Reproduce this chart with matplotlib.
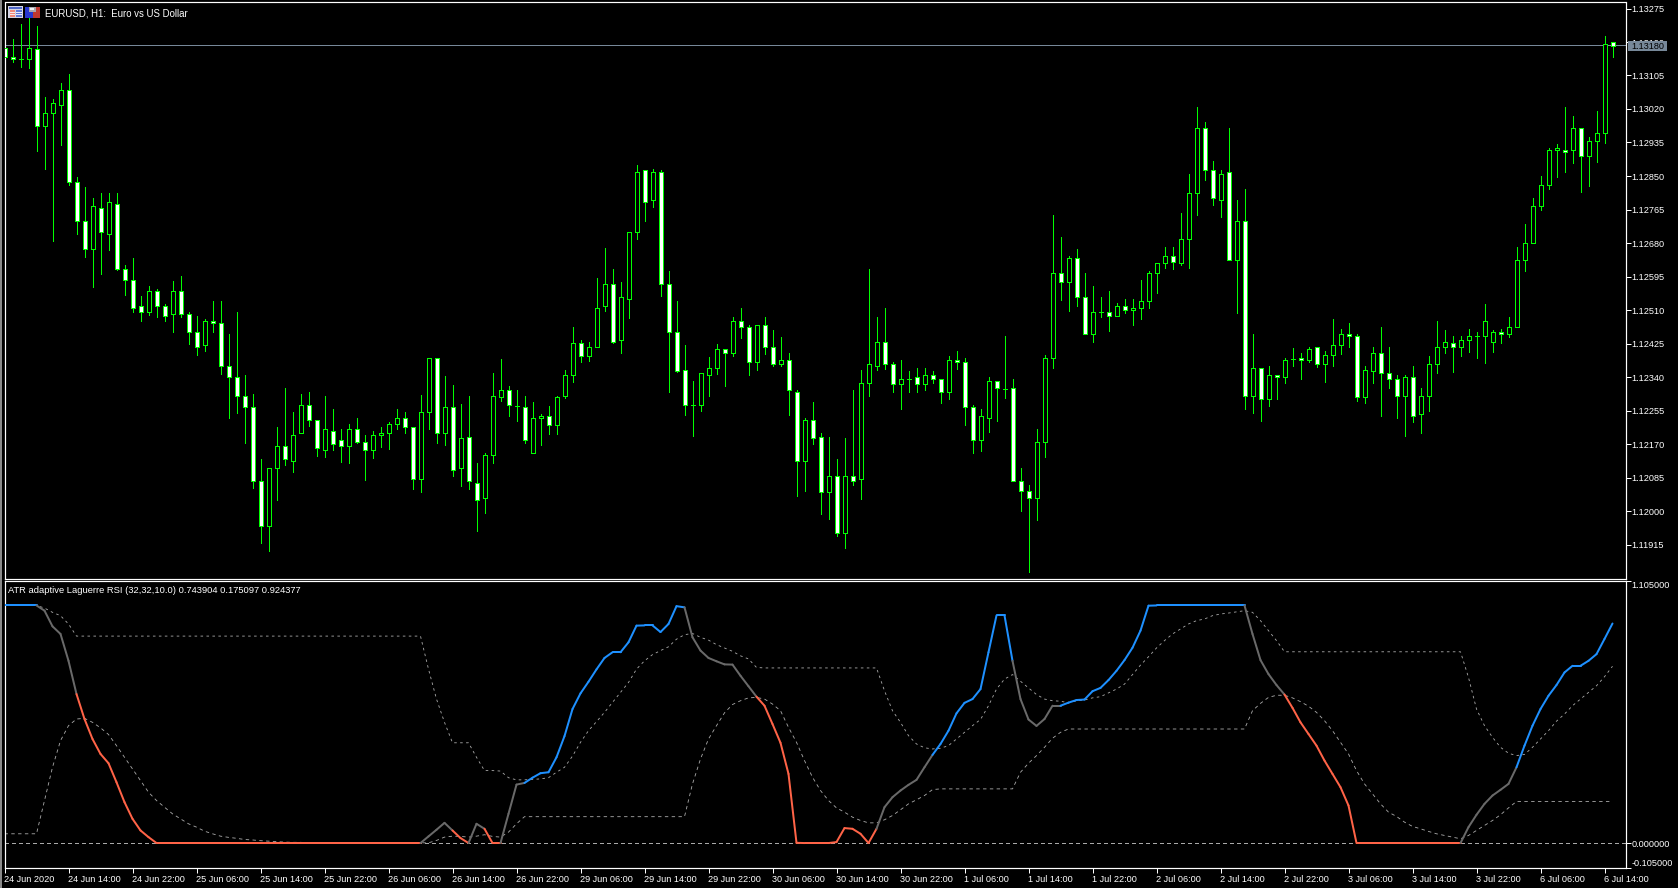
"""EURUSD H1 candles with an ATR adaptive Laguerre RSI pane, MT5 style."""

import matplotlib

matplotlib.use("Agg")
import matplotlib.pyplot as plt
import numpy as np
from matplotlib.patches import Rectangle

W, H = 1678, 888

# candle values, in points above 1.10000
OPEN_PTS = [
    3176, 3153, 3147, 3147, 3173, 2978, 3011, 3031, 3067, 2834,
    2735, 2666, 2768, 2704, 2780, 2613, 2585, 2521, 2504, 2559,
    2521, 2499, 2557, 2499, 2453, 2420, 2483, 2478, 2369, 2341,
    2293, 2263, 2077, 1963, 2110, 2166, 2128, 2197, 2270, 2232,
    2156, 2204, 2179, 2164, 2209, 2176, 2156, 2192, 2199, 2222,
    2237, 2212, 2080, 2250, 2389, 2199, 2265, 2108, 2189, 2070,
    2034, 2141, 2290, 2308, 2267, 2263, 2146, 2237, 2242, 2217,
    2293, 2344, 2425, 2394, 2415, 2521, 2577, 2433, 2539, 2707,
    2864, 2788, 2859, 2577, 2455, 2359, 2270, 2270, 2346, 2362,
    2412, 2402, 2483, 2466, 2379, 2471, 2417, 2374, 2384, 2303,
    2128, 2230, 2189, 2047, 2090, 1943, 2090, 2080, 2326, 2369,
    2430, 2374, 2321, 2334, 2339, 2321, 2346, 2336, 2303, 2384,
    2379, 2265, 2179, 2237, 2329, 2310, 2311, 2075, 2050, 2034,
    2174, 2387, 2605, 2582, 2641, 2542, 2450, 2506, 2506, 2496,
    2519, 2509, 2514, 2532, 2603, 2628, 2648, 2630, 2689, 2806,
    2973, 2866, 2788, 2859, 2636, 2735, 2292, 2362, 2283, 2344,
    2339, 2386, 2389, 2384, 2415, 2372, 2397, 2422, 2450, 2445,
    2288, 2356, 2400, 2349, 2336, 2291, 2339, 2245, 2293, 2374,
    2415, 2426, 2415, 2433, 2443, 2445, 2430, 2455, 2450, 2466,
    2638, 2681, 2773, 2826, 2915, 2917, 2915, 2971, 2902, 2938,
    2958, 3191,
]
HIGH_PTS = [
    3194, 3197, 3235, 3250, 3230, 3050, 3045, 3085, 3110, 2847,
    2821, 2793, 2808, 2806, 2806, 2625, 2641, 2545, 2570, 2564,
    2525, 2583, 2596, 2504, 2496, 2486, 2532, 2532, 2450, 2506,
    2344, 2298, 2131, 2110, 2214, 2313, 2250, 2298, 2301, 2232,
    2291, 2260, 2207, 2220, 2235, 2194, 2204, 2214, 2227, 2260,
    2250, 2214, 2294, 2389, 2389, 2342, 2319, 2271, 2291, 2123,
    2148, 2350, 2385, 2317, 2306, 2291, 2276, 2247, 2266, 2293,
    2359, 2466, 2435, 2428, 2592, 2667, 2613, 2582, 2707, 2877,
    2866, 2869, 2866, 2608, 2532, 2420, 2331, 2351, 2392, 2423,
    2412, 2491, 2514, 2471, 2473, 2493, 2460, 2441, 2402, 2308,
    2237, 2276, 2197, 2189, 2133, 2184, 2308, 2359, 2615, 2493,
    2516, 2379, 2384, 2354, 2364, 2362, 2354, 2336, 2394, 2405,
    2387, 2270, 2260, 2341, 2331, 2445, 2336, 2110, 2067, 2209,
    2397, 2750, 2696, 2646, 2666, 2603, 2570, 2542, 2559, 2529,
    2539, 2539, 2585, 2610, 2628, 2669, 2669, 2755, 2856, 3024,
    2986, 2889, 2864, 2973, 2788, 2816, 2450, 2364, 2369, 2346,
    2389, 2413, 2402, 2417, 2415, 2407, 2488, 2463, 2476, 2448,
    2367, 2417, 2466, 2417, 2344, 2344, 2369, 2311, 2394, 2481,
    2460, 2445, 2445, 2463, 2455, 2524, 2460, 2463, 2493, 2669,
    2728, 2793, 2851, 2922, 2932, 3024, 3001, 2973, 2948, 3016,
    3204, 3191,
]
LOW_PTS = [
    3144, 3140, 3127, 3124, 2914, 2868, 2685, 2929, 2826, 2704,
    2645, 2569, 2602, 2662, 2612, 2548, 2505, 2482, 2498, 2492,
    2482, 2454, 2492, 2424, 2396, 2406, 2454, 2348, 2236, 2249,
    2173, 2059, 1919, 1899, 2028, 2117, 2099, 2197, 2216, 2140,
    2137, 2156, 2125, 2122, 2173, 2079, 2135, 2163, 2158, 2208,
    2198, 2056, 2048, 2208, 2172, 2167, 2089, 2064, 2056, 1950,
    1995, 2122, 2279, 2241, 2228, 2172, 2146, 2167, 2195, 2195,
    2286, 2328, 2378, 2380, 2415, 2507, 2425, 2400, 2490, 2690,
    2736, 2772, 2546, 2302, 2352, 2243, 2190, 2253, 2291, 2348,
    2317, 2393, 2438, 2344, 2357, 2398, 2367, 2367, 2243, 2038,
    2050, 2169, 1992, 1979, 1937, 1906, 2066, 2031, 2292, 2357,
    2361, 2301, 2259, 2302, 2302, 2307, 2325, 2274, 2284, 2361,
    2218, 2147, 2152, 2201, 2229, 2287, 2075, 2000, 1845, 1977,
    2137, 2362, 2535, 2508, 2520, 2450, 2429, 2492, 2457, 2496,
    2503, 2471, 2487, 2515, 2553, 2616, 2614, 2624, 2617, 2751,
    2840, 2777, 2745, 2636, 2502, 2258, 2249, 2229, 2267, 2284,
    2325, 2368, 2335, 2378, 2366, 2328, 2368, 2399, 2416, 2279,
    2274, 2325, 2241, 2312, 2236, 2190, 2226, 2198, 2254, 2350,
    2401, 2353, 2394, 2404, 2389, 2376, 2404, 2426, 2442, 2466,
    2609, 2681, 2764, 2817, 2848, 2860, 2883, 2810, 2825, 2886,
    2934, 3151,
]
CLOSE_PTS = [
    3152, 3146, 3147, 3176, 2978, 3011, 3034, 3069, 2834, 2735,
    2666, 2775, 2707, 2783, 2615, 2585, 2516, 2504, 2559, 2521,
    2496, 2557, 2499, 2453, 2417, 2483, 2476, 2369, 2339, 2293,
    2265, 2077, 1961, 2110, 2166, 2131, 2194, 2270, 2230, 2159,
    2209, 2169, 2164, 2209, 2176, 2156, 2194, 2199, 2222, 2235,
    2212, 2080, 2250, 2389, 2197, 2265, 2103, 2184, 2075, 2029,
    2143, 2293, 2308, 2268, 2267, 2179, 2237, 2242, 2217, 2288,
    2346, 2425, 2394, 2415, 2516, 2577, 2430, 2542, 2707, 2861,
    2783, 2859, 2577, 2455, 2356, 2270, 2270, 2349, 2362, 2410,
    2402, 2483, 2468, 2379, 2471, 2417, 2374, 2384, 2308, 2128,
    2230, 2184, 2047, 2090, 1943, 2090, 2077, 2326, 2374, 2428,
    2374, 2323, 2336, 2334, 2321, 2346, 2334, 2303, 2384, 2379,
    2263, 2179, 2240, 2331, 2313, 2310, 2075, 2050, 2034, 2176,
    2389, 2605, 2582, 2641, 2542, 2450, 2506, 2506, 2496, 2519,
    2509, 2514, 2532, 2603, 2628, 2648, 2633, 2689, 2806, 2973,
    2866, 2793, 2856, 2636, 2737, 2291, 2362, 2283, 2344, 2339,
    2384, 2386, 2384, 2412, 2372, 2397, 2422, 2450, 2445, 2288,
    2359, 2400, 2349, 2334, 2291, 2339, 2242, 2293, 2374, 2415,
    2430, 2415, 2433, 2443, 2443, 2481, 2455, 2448, 2466, 2638,
    2681, 2773, 2826, 2915, 2920, 2912, 2971, 2902, 2940, 2958,
    3186, 3181,
]

# indicator pane
rsi = (
    [1.0] * 5
    + [0.978, 0.912, 0.880, 0.767, 0.627, 0.522, 0.438, 0.375, 0.336, 0.256,
       0.172, 0.102, 0.053, 0.025]
    + [0.0] * 34
    + [0.028, 0.056, 0.085, 0.053, 0.021, 0.0, 0.081, 0.060, 0.0, 0.0,
       0.123, 0.246, 0.253, 0.275, 0.294, 0.298, 0.361, 0.450, 0.564, 0.630,
       0.679, 0.731, 0.779, 0.803, 0.803, 0.845, 0.915, 0.916, 0.916, 0.888,
       0.922, 0.997, 0.992, 0.866, 0.810, 0.779, 0.765, 0.752, 0.751, 0.704,
       0.660, 0.616, 0.578, 0.501, 0.422, 0.291, 0.001, 0.0, 0.0, 0.0,
       0.0, 0.004, 0.063, 0.060, 0.039, 0.0, 0.060, 0.151, 0.193, 0.221,
       0.245, 0.266, 0.319, 0.371, 0.417, 0.473, 0.546, 0.590, 0.606, 0.648,
       0.803, 0.958, 0.958, 0.767, 0.606, 0.520, 0.493, 0.522, 0.578, 0.578,
       0.591, 0.602, 0.604, 0.639, 0.653, 0.686, 0.725, 0.770, 0.822, 0.894,
       0.999]
    + [1.0] * 12
    + [0.880, 0.770, 0.711, 0.665, 0.625, 0.569, 0.508, 0.459, 0.410, 0.347,
       0.291, 0.235, 0.158, 0.0]
    + [0.0] * 13
    + [0.067, 0.119, 0.165, 0.200, 0.224, 0.249, 0.319, 0.410, 0.494, 0.564,
       0.620, 0.665, 0.718, 0.746, 0.746, 0.767, 0.795, 0.859, 0.924]
)
level_up = (
    [1.0] * 5
    + [0.989, 0.971, 0.957, 0.922]
    + [0.871] * 44
    + [0.732, 0.606, 0.508, 0.422, 0.422, 0.422, 0.361, 0.305, 0.305, 0.303,
       0.275, 0.266, 0.266, 0.268, 0.270, 0.275, 0.298, 0.319, 0.366, 0.424,
       0.473, 0.511, 0.550, 0.592, 0.634, 0.676, 0.732, 0.767, 0.793, 0.810,
       0.826, 0.858, 0.877, 0.882, 0.866, 0.854, 0.835, 0.821, 0.807, 0.788,
       0.775, 0.739]
    + [0.737] * 15
    + [0.641, 0.557, 0.508, 0.452, 0.417, 0.401, 0.396, 0.399, 0.410, 0.438,
       0.466, 0.494, 0.520, 0.578, 0.648, 0.690, 0.709, 0.681, 0.653, 0.625,
       0.606, 0.599, 0.597, 0.590, 0.599, 0.602, 0.611, 0.616, 0.632, 0.648,
       0.669, 0.709, 0.749, 0.784, 0.821, 0.852, 0.880, 0.901, 0.922, 0.936,
       0.943, 0.957, 0.964, 0.968, 0.973, 0.978, 0.971, 0.936, 0.894, 0.852]
    + [0.805] * 23
    + [0.697, 0.564, 0.494, 0.445, 0.403, 0.378, 0.368, 0.373, 0.403, 0.438,
       0.473, 0.513, 0.543, 0.578, 0.606, 0.634, 0.662, 0.700, 0.744]
)
level_down = (
    [0.039] * 5
    + [0.179, 0.319, 0.431, 0.494, 0.522, 0.525, 0.508, 0.485, 0.457, 0.410,
       0.361, 0.312, 0.263, 0.214, 0.179, 0.151, 0.123, 0.102, 0.081, 0.067,
       0.050, 0.039, 0.029, 0.024, 0.020, 0.015, 0.013, 0.010, 0.008, 0.006,
       0.004, 0.003, 0.003]
    + [0.001] * 16
    + [0.011, 0.025, 0.029, 0.028, 0.025, 0.029, 0.035, 0.028, 0.025, 0.046,
       0.081]
    + [0.111] * 21
    + [0.249, 0.354, 0.438, 0.494, 0.548, 0.583, 0.599, 0.611, 0.613, 0.606,
       0.585, 0.557, 0.487, 0.424, 0.347, 0.277, 0.221, 0.179, 0.148, 0.130,
       0.109, 0.095, 0.085, 0.085, 0.098, 0.116, 0.140, 0.165, 0.182, 0.200,
       0.225]
    + [0.228] * 10
    + [0.298, 0.336, 0.368, 0.403, 0.441, 0.466]
    + [0.480] * 23
    + [0.557, 0.588, 0.613, 0.622, 0.622, 0.611, 0.595, 0.576, 0.550, 0.515,
       0.473, 0.424, 0.375, 0.305, 0.249, 0.207, 0.165, 0.130, 0.112, 0.088,
       0.070, 0.060, 0.049, 0.039, 0.032, 0.025, 0.018, 0.032, 0.053, 0.074,
       0.095, 0.119, 0.148]
    + [0.175] * 13
)

date_labels = [
    "24 Jun 2020", "24 Jun 14:00", "24 Jun 22:00", "25 Jun 06:00", "25 Jun 14:00",
    "25 Jun 22:00", "26 Jun 06:00", "26 Jun 14:00", "26 Jun 22:00", "29 Jun 06:00",
    "29 Jun 14:00", "29 Jun 22:00", "30 Jun 06:00", "30 Jun 14:00", "30 Jun 22:00",
    "1 Jul 06:00", "1 Jul 14:00", "1 Jul 22:00", "2 Jul 06:00", "2 Jul 14:00",
    "2 Jul 22:00", "3 Jul 06:00", "3 Jul 14:00", "3 Jul 22:00", "6 Jul 06:00",
    "6 Jul 14:00",
]
price_ticks = [
    1.13275, 1.13190, 1.13105, 1.13020, 1.12935, 1.12850, 1.12765, 1.12680, 1.12595,
    1.12510, 1.12425, 1.12340, 1.12255, 1.12170, 1.12085, 1.12000, 1.11915,
]
rsi_ticks = [1.105, 0.0, -0.105]
bid_line = 1.13182

GREEN = "#00ff00"
BLUE = "#1e90ff"
GREY = "#696969"
TOMATO = "#ff6347"
LEVEL = "#a9a9a9"
SLATE = "#778899"
PX = 0.72  # one pixel in points at dpi 100

plt.rcParams["font.family"] = ["Liberation Sans", "DejaVu Sans"]
plt.rcParams["font.size"] = 6.6


def px_axes(fig, left, top, right, bottom):
    ax = fig.add_axes([left / W, 1 - bottom / H, (right - left) / W, (bottom - top) / H])
    ax.set_facecolor("black")
    for s in ax.spines.values():
        s.set_color("white")
        s.set_linewidth(PX * 1.2)
    ax.set_xlim((left - 4.5) / 8, (right - 4.5) / 8)
    return ax


def px_rect(fig, x0, y0, w0, h0, color, zorder=5):
    fig.add_artist(Rectangle((x0 / W, 1 - (y0 + h0) / H), w0 / W, h0 / H,
                             transform=fig.transFigure, fc=color, ec="none", zorder=zorder))


opens = 1.1 + np.array(OPEN_PTS) / 1e5
highs = 1.1 + np.array(HIGH_PTS) / 1e5
lows = 1.1 + np.array(LOW_PTS) / 1e5
closes = 1.1 + np.array(CLOSE_PTS) / 1e5
bars = np.arange(len(opens))

fig = plt.figure(figsize=(W / 100, H / 100), dpi=100, facecolor="black")

# price window
ax = px_axes(fig, 4.5, 2.5, 1625.5, 578.5)
per_px = 0.00085 / 33.5
ax.set_ylim(1.13275 - (578.5 - 8.5) * per_px, 1.13275 + (8.5 - 2.5) * per_px)
ax.axhline(bid_line, color=SLATE, lw=PX, antialiased=False, zorder=1)
ax.vlines(bars, lows, highs, color=GREEN, lw=PX, antialiased=False, zorder=2)
ax.bar(
    bars, closes - opens, bottom=opens, width=0.5,
    color=np.where(closes < opens, "white", "black"),
    edgecolor=GREEN, linewidth=PX, antialiased=False, zorder=3,
)
ax.set_xticks([])
ax.yaxis.tick_right()
ax.set_yticks(price_ticks, [f"{t:.5f}" for t in price_ticks])
ax.tick_params(axis="y", colors="white", length=3.8, width=PX, pad=0.6)
fig.text(45.3 / W, 1 - 14 / H, "EURUSD, H1:  Euro vs US Dollar", color="white", va="center", fontsize=6.9)

# bid tag over the tick labels
px_rect(fig, 1628, 40.7, 39, 10.3, SLATE, zorder=6)
fig.text(1647.5 / W, 1 - 46.5 / H, "1.13180", color="black", ha="center", va="center", zorder=7)

# window icons in the top left corner
icon_parts = [
    (8, 6, 15, 12.5, "#d4d4e4"), (9, 7, 13, 2, "#5068c8"),
    (9.5, 10, 5.5, 7, "#f08878"), (16, 10, 5.5, 7, "#6078d8"),
    (9.5, 12, 5.5, 1, "#f8e8e8"), (9.5, 14.5, 5.5, 1, "#f8e8e8"),
    (16, 12, 5.5, 1, "#e8e8f8"), (16, 14.5, 5.5, 1, "#e8e8f8"),
    (25, 7, 7.5, 11, "#2838d0"), (32.5, 7, 7.5, 11, "#c03830"),
    (28.5, 7, 7.5, 5.5, "#a8a8b0"), (30, 8, 4, 2, "#f0f0f0"),
]
for part in icon_parts:
    px_rect(fig, *part)

# indicator window
sub = px_axes(fig, 4.5, 580.5, 1625.5, 868)
sub.set_ylim(-0.105, 1.105)
sub.axhline(0, color=LEVEL, lw=PX, ls=(0, (4, 4)), antialiased=False, zorder=1)
sub.plot(bars, level_up, color=LEVEL, lw=PX * 0.85, ls=(0, (3, 4)), zorder=2)
sub.plot(bars, level_down, color=LEVEL, lw=PX * 0.85, ls=(0, (4, 4)), zorder=2)
rsi_arr = np.array(rsi)
up_arr = np.array(level_up)
down_arr = np.array(level_down)
for i in range(1, len(rsi_arr)):
    # each segment takes the colour of the bar it ends on
    if rsi_arr[i] > up_arr[i] or rsi_arr[i] >= 1.0:
        c = BLUE
    elif rsi_arr[i] < down_arr[i]:
        c = TOMATO
    else:
        c = GREY
    sub.plot(bars[i - 1:i + 1], rsi_arr[i - 1:i + 1], color=c, lw=PX * 2,
             solid_capstyle="round", zorder=3)
sub.text(0.002, 0.966, "ATR adaptive Laguerre RSI (32,32,10.0) 0.743904 0.175097 0.924377",
         color="white", transform=sub.transAxes, va="center", fontsize=6.75)
sub.set_xticks(bars[::8][: len(date_labels)], date_labels, ha="left")
sub.yaxis.tick_right()
sub.set_yticks(rsi_ticks, [f"{t:.6f}" for t in rsi_ticks])
sub.tick_params(axis="x", colors="white", length=3.5, width=PX, pad=1.6)
sub.tick_params(axis="y", colors="white", length=3.8, width=PX, pad=0.6)
tick_labels = sub.get_yticklabels()
tick_labels[0].set_verticalalignment("top")
tick_labels[2].set_verticalalignment("bottom")

px_rect(fig, 0, 0, 2.3, H, "#8a8a8a")

fig.savefig("out.png", dpi=100, facecolor="black")
